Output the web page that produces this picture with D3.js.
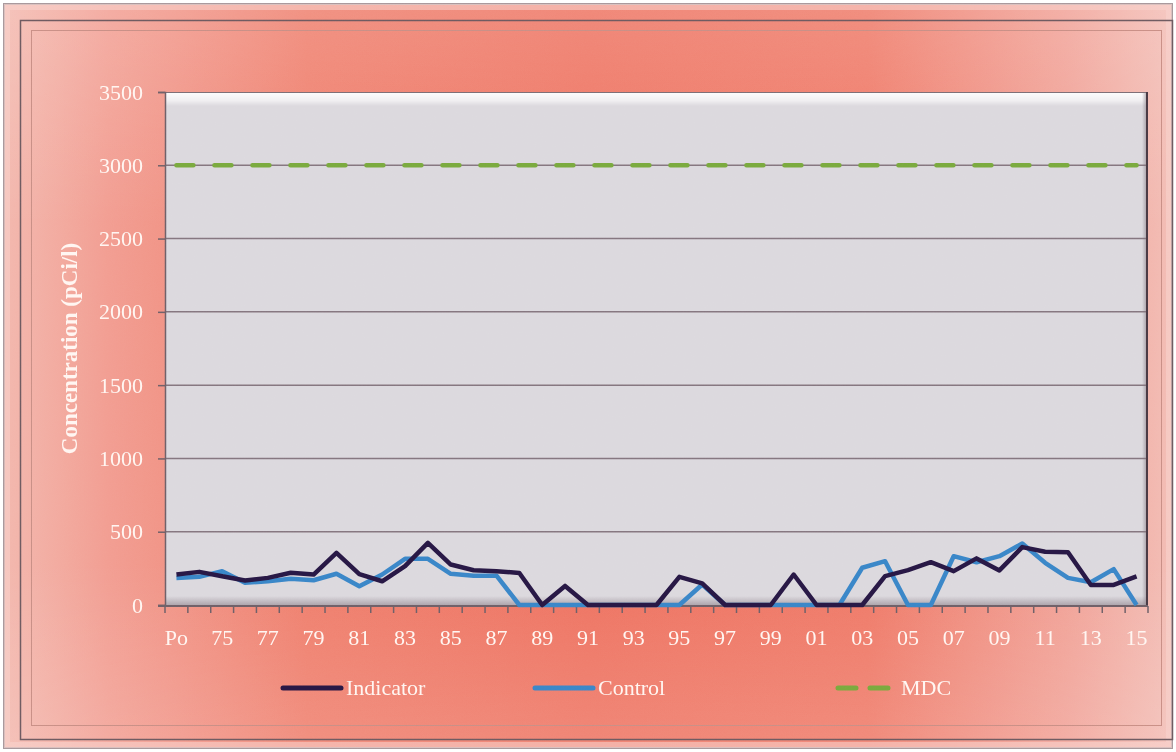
<!DOCTYPE html>
<html>
<head>
<meta charset="utf-8">
<script src="https://cdn.jsdelivr.net/npm/d3@7/dist/d3.min.js"></script>
<style>
  html, body { margin: 0; padding: 0; background: #ffffff; }
  svg { display: block; }
  text { font-family: "Liberation Serif", "DejaVu Serif", serif; fill: #fff6f2; }
</style>
</head>
<body>
<svg id="chart" width="1176" height="752"></svg>
<script>
// Sampling periods: pre-operational, then 1974 through 2015
const categories = ["Po","74","75","76","77","78","79","80","81","82","83","84","85","86","87","88","89",
  "90","91","92","93","94","95","96","97","98","99","00","01","02","03","04","05","06","07","08","09",
  "10","11","12","13","14","15"];

// Concentrations in pCi/l
const indicator = [208,226,196,167,185,220,208,356,210,162,265,424,276,237,231,218,0,
  130,0,0,0,0,192,148,0,0,0,208,0,0,0,197,238,292,231,318,236,395,363,360,137,137,195];
const control = [185,192,231,151,162,179,169,213,128,208,315,315,213,200,200,0,0,
  0,0,0,0,0,0,140,0,0,0,0,0,0,254,299,0,0,333,292,333,419,288,185,155,245,0];
const mdcLevel = 3000;

const yTicks = [0,500,1000,1500,2000,2500,3000,3500];
const yTitle = "Concentration (pCi/l)";
const seriesNames = ["Indicator","Control","MDC"];

const svg = d3.select("#chart");
const W = 1176, H = 752;
const plot = { left: 165, right: 1148, top: 92, bottom: 605 };

const defs = svg.append("defs");

// Coral backdrop: saturated in the middle, paler toward the sides
const bg = defs.append("linearGradient").attr("id","bgGrad").attr("x1","0").attr("x2","1").attr("y1","0").attr("y2","0");
[[0,"#f3b8ae"],[0.09,"#f29d91"],[0.26,"#ef7d6b"],[0.5,"#ee7260"],[0.74,"#ef7866"],[0.91,"#f1a196"],[1,"#f3bdb5"]]
  .forEach(([o,c]) => bg.append("stop").attr("offset",o).attr("stop-color",c));

const vshade = defs.append("linearGradient").attr("id","vShade").attr("x1","0").attr("x2","0").attr("y1","0").attr("y2","1");
[[0,"#ffffff",0.16],[0.3,"#ffffff",0.0],[0.75,"#ffffff",0.0],[1,"#ffffff",0.14]]
  .forEach(([o,c,a]) => vshade.append("stop").attr("offset",o).attr("stop-color",c).attr("stop-opacity",a));

// Plot panel bevel
const topBevel = defs.append("linearGradient").attr("id","topBevel").attr("x1","0").attr("x2","0").attr("y1","0").attr("y2","1");
[[0,"#ffffff",0.95],[0.6,"#ffffff",0.6],[1,"#ffffff",0]]
  .forEach(([o,c,a]) => topBevel.append("stop").attr("offset",o).attr("stop-color",c).attr("stop-opacity",a));
const botBevel = defs.append("linearGradient").attr("id","botBevel").attr("x1","0").attr("x2","0").attr("y1","0").attr("y2","1");
[[0,"#9a8f98",0],[1,"#9a8f98",0.7]]
  .forEach(([o,c,a]) => botBevel.append("stop").attr("offset",o).attr("stop-color",c).attr("stop-opacity",a));
const rightBevel = defs.append("linearGradient").attr("id","rightBevel").attr("x1","0").attr("x2","1").attr("y1","0").attr("y2","0");
[[0,"#8a7f88",0],[1,"#8a7f88",0.8]]
  .forEach(([o,c,a]) => rightBevel.append("stop").attr("offset",o).attr("stop-color",c).attr("stop-opacity",a));

// Fine grain
const grain = defs.append("filter").attr("id","grain").attr("x",0).attr("y",0).attr("width","100%").attr("height","100%");
grain.append("feTurbulence").attr("type","fractalNoise").attr("baseFrequency",0.9).attr("numOctaves",2).attr("seed",3).attr("result","n");
grain.append("feColorMatrix").attr("in","n").attr("type","matrix")
  .attr("values","0 0 0 0 0.5  0 0 0 0 0.5  0 0 0 0 0.5  0 0 0 0.5 0");

// Outer frame
svg.append("rect").attr("width",W).attr("height",H).attr("fill","#ffffff");
svg.append("rect").attr("x",4).attr("y",4).attr("width",1168).attr("height",744)
  .attr("fill","url(#bgGrad)").attr("stroke","#a8989c").attr("stroke-width",2);
svg.append("rect").attr("x",4).attr("y",4).attr("width",1168).attr("height",744).attr("fill","url(#vShade)");
// bevelled rim
svg.append("rect").attr("x",7).attr("y",7).attr("width",1162).attr("height",738)
  .attr("fill","none").attr("stroke","#f7d4ce").attr("stroke-width",6).attr("opacity",0.55);
svg.append("rect").attr("x",20.5).attr("y",20.5).attr("width",1152).attr("height",719)
  .attr("fill","none").attr("stroke","#6e5a60").attr("stroke-width",1.5);
svg.append("rect").attr("x",31.5).attr("y",30.5).attr("width",1130).attr("height",695)
  .attr("fill","none").attr("stroke","#c98f86").attr("stroke-width",1);

// Plot panel
const pw = plot.right - plot.left, ph = plot.bottom - plot.top;
svg.append("rect").attr("x",plot.left).attr("y",plot.top).attr("width",pw).attr("height",ph)
  .attr("fill","#dcd9de");
svg.append("rect").attr("x",plot.left).attr("y",plot.top).attr("width",pw).attr("height",14)
  .attr("fill","url(#topBevel)");
svg.append("rect").attr("x",plot.left).attr("y",plot.bottom-9).attr("width",pw).attr("height",9)
  .attr("fill","url(#botBevel)");
svg.append("rect").attr("x",plot.right-6).attr("y",plot.top).attr("width",6).attr("height",ph)
  .attr("fill","url(#rightBevel)");
svg.append("line").attr("x1",plot.left).attr("x2",plot.right).attr("y1",plot.top+0.5).attr("y2",plot.top+0.5)
  .attr("stroke","#7d6e76").attr("stroke-width",1.2);
svg.append("line").attr("x1",plot.right-1).attr("x2",plot.right-1).attr("y1",plot.top).attr("y2",plot.bottom)
  .attr("stroke","#4a3a44").attr("stroke-width",2);

// Scales
const x = d3.scaleBand().domain(categories).range([plot.left, plot.right]).padding(0);
const cx = c => x(c) + x.bandwidth() / 2;
const y = d3.scaleLinear().domain([0, 3500]).range([plot.bottom, plot.top]);

// Gridlines
svg.append("g").selectAll("line").data(yTicks.filter(t => t > 0 && t < 3500)).join("line")
  .attr("x1",plot.left).attr("x2",plot.right-2)
  .attr("y1",d => y(d)).attr("y2",d => y(d))
  .attr("stroke","#85767f").attr("stroke-width",1.5);

// Y axis
const yAxis = svg.append("g").attr("transform",`translate(${plot.left},0)`)
  .call(d3.axisLeft(y).tickValues(yTicks).tickSize(7).tickPadding(15).tickFormat(d3.format("d")));
yAxis.select(".domain").attr("stroke","#6f6068").attr("stroke-width",1.5);
yAxis.selectAll(".tick line").attr("stroke","#6f6068").attr("stroke-width",1.5);
yAxis.selectAll(".tick text").attr("font-size",22).attr("fill","#fff6f2")
  .attr("font-family","'Liberation Serif', serif");

// X axis: ticks on category boundaries, labels on every other category
const xAxisG = svg.append("g");
xAxisG.append("line").attr("x1",plot.left-7).attr("x2",plot.right).attr("y1",plot.bottom+1).attr("y2",plot.bottom+1)
  .attr("stroke","#6f6068").attr("stroke-width",1.8);
const bounds = categories.map(c => x(c)).concat([plot.right]);
xAxisG.selectAll("line.tk").data(bounds).join("line").attr("class","tk")
  .attr("x1",d => d).attr("x2",d => d).attr("y1",plot.bottom+1).attr("y2",plot.bottom+8)
  .attr("stroke","#6f6068").attr("stroke-width",1.5);
xAxisG.selectAll("text").data(categories.filter((c,i) => i % 2 === 0)).join("text")
  .attr("x",d => cx(d)).attr("y",plot.bottom+40)
  .attr("text-anchor","middle").attr("font-size",22).text(d => d);

// Y title
svg.append("text").attr("transform",`translate(77,${(plot.top+plot.bottom)/2}) rotate(-90)`)
  .attr("text-anchor","middle").attr("font-size",23).attr("font-weight","bold").text(yTitle);

// Series
const line = d3.line().x((d,i) => cx(categories[i])).y(d => y(d));
svg.append("path").datum(control).attr("d",line).attr("fill","none")
  .attr("stroke","#3a86c8").attr("stroke-width",4.5).attr("stroke-linejoin","round");
svg.append("path").datum(indicator).attr("d",line).attr("fill","none")
  .attr("stroke","#281845").attr("stroke-width",4.5).attr("stroke-linejoin","round");

const mdc = categories.map(() => mdcLevel);
svg.append("path").datum(mdc).attr("d",line).attr("fill","none")
  .attr("stroke","#7aaa3e").attr("stroke-width",4.5).attr("stroke-linecap","round")
  .attr("stroke-dasharray","17 21");

// Legend
const legend = svg.append("g");
const legItems = [
  { name: seriesNames[0], color: "#281845", dash: null, x0: 283 },
  { name: seriesNames[1], color: "#3a86c8", dash: null, x0: 535 },
  { name: seriesNames[2], color: "#7aaa3e", dash: "18 14", x0: 838 }
];
legItems.forEach(it => {
  legend.append("line").attr("x1",it.x0).attr("x2",it.x0+58).attr("y1",688).attr("y2",688)
    .attr("stroke",it.color).attr("stroke-width",5).attr("stroke-linecap","round")
    .attr("stroke-dasharray",it.dash);
  legend.append("text").attr("x",it.x0+63).attr("y",695).attr("font-size",22).text(it.name);
});

// Grain over everything
svg.append("rect").attr("width",W).attr("height",H).attr("filter","url(#grain)").attr("opacity",0.12)
  .style("mix-blend-mode","overlay");
</script>
</body>
</html>
